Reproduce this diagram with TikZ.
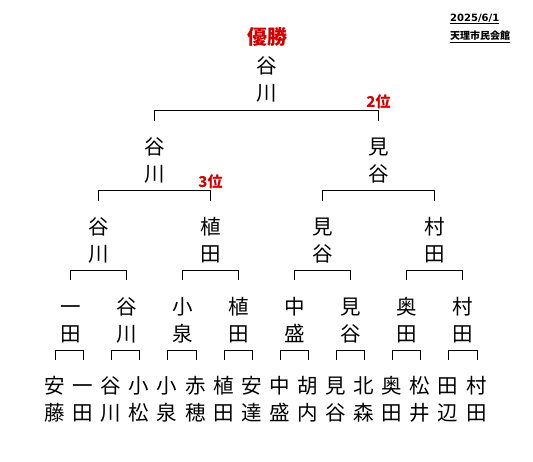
\documentclass[tikz,border=0pt]{standalone}
\usepackage{fontspec}
\usepackage{xcolor}
\usepackage{tikz}
\setmainfont{Noto Sans CJK JP}
\newfontfamily\datefont{DejaVu Sans}
\definecolor{rankred}{HTML}{D00000}
\newcommand\duo[2]{\strut#1\\\strut#2}

\begin{document}
\begin{tikzpicture}[
x=1pt,y=-1pt,
every node/.style={inner sep=0pt},
player/.style={align=center,font=\fontsize{20.5}{27}\selectfont},
rank/.style={text=rankred,font=\fontsize{15}{15}\selectfont\bfseries},
info/.style={anchor=west,font=\fontsize{10}{10}\selectfont\bfseries},
bracket/.style={draw,line width=0.8pt}
]
\useasboundingbox (0,0) rectangle (533,461);

% Header
\node[text=rankred,font=\fontsize{20}{20}\selectfont\bfseries] (title) at (267,37) {優勝};
\node[info] (date) at (450,19) {\datefont\underline{2025/6/1}};
\node[info] (venue) at (450,37) {\underline{天理市民会館}};

% Players
\node[player] (p1) at (55,402) {\duo{安}{藤}};
\node[player] (p2) at (83,402) {\duo{一}{田}};
\node[player] (p3) at (111,402) {\duo{谷}{川}};
\node[player] (p4) at (139,402) {\duo{小}{松}};
\node[player] (p5) at (167,402) {\duo{小}{泉}};
\node[player] (p6) at (196,402) {\duo{赤}{穂}};
\node[player] (p7) at (224,402) {\duo{植}{田}};
\node[player] (p8) at (252,402) {\duo{安}{達}};
\node[player] (p9) at (280,402) {\duo{中}{盛}};
\node[player] (p10) at (308,402) {\duo{胡}{内}};
\node[player] (p11) at (336,402) {\duo{見}{谷}};
\node[player] (p12) at (364,402) {\duo{北}{森}};
\node[player] (p13) at (392,402) {\duo{奥}{田}};
\node[player] (p14) at (420,402) {\duo{松}{井}};
\node[player] (p15) at (448,402) {\duo{田}{辺}};
\node[player] (p16) at (477,402) {\duo{村}{田}};

% Round 1 winners
\node[player] (w1) at (70.5,323) {\duo{一}{田}};
\node[player] (w2) at (126.5,323) {\duo{谷}{川}};
\node[player] (w3) at (182.5,323) {\duo{小}{泉}};
\node[player] (w4) at (238.5,323) {\duo{植}{田}};
\node[player] (w5) at (294.5,323) {\duo{中}{盛}};
\node[player] (w6) at (350.5,323) {\duo{見}{谷}};
\node[player] (w7) at (406.5,323) {\duo{奥}{田}};
\node[player] (w8) at (462.5,323) {\duo{村}{田}};

% Quarter-final winners
\node[player] (q1) at (98.5,242.5) {\duo{谷}{川}};
\node[player] (q2) at (210.5,242.5) {\duo{植}{田}};
\node[player] (q3) at (322.5,242.5) {\duo{見}{谷}};
\node[player] (q4) at (434.5,242.5) {\duo{村}{田}};

% Semi-final winners
\node[player] (s1) at (154.5,162.5) {\duo{谷}{川}};
\node[player] (s2) at (378.5,162.5) {\duo{見}{谷}};

% Champion
\node[player] (champ) at (266.5,82) {\duo{谷}{川}};

% Ranks
\node[rank] (second) at ([yshift=61pt]s2.center) {2位};
\node[rank] (third) at ([yshift=61pt]q2.center) {3位};

% Round 1 brackets
\draw[bracket] ([yshift=42pt]p1.center) -- ++(0,-10) -| ([yshift=42pt]p2.center);
\draw[bracket] ([yshift=42pt]p3.center) -- ++(0,-10) -| ([yshift=42pt]p4.center);
\draw[bracket] ([yshift=42pt]p5.center) -- ++(0,-10) -| ([yshift=42pt]p6.center);
\draw[bracket] ([yshift=42pt]p7.center) -- ++(0,-10) -| ([yshift=42pt]p8.center);
\draw[bracket] ([yshift=42pt]p9.center) -- ++(0,-10) -| ([yshift=42pt]p10.center);
\draw[bracket] ([yshift=42pt]p11.center) -- ++(0,-10) -| ([yshift=42pt]p12.center);
\draw[bracket] ([yshift=42pt]p13.center) -- ++(0,-10) -| ([yshift=42pt]p14.center);
\draw[bracket] ([yshift=42pt]p15.center) -- ++(0,-10) -| ([yshift=42pt]p16.center);

% Quarter-final brackets
\draw[bracket] ([yshift=43pt]w1.center) -- ++(0,-10) -| ([yshift=43pt]w2.center);
\draw[bracket] ([yshift=43pt]w3.center) -- ++(0,-10) -| ([yshift=43pt]w4.center);
\draw[bracket] ([yshift=43pt]w5.center) -- ++(0,-10) -| ([yshift=43pt]w6.center);
\draw[bracket] ([yshift=43pt]w7.center) -- ++(0,-10) -| ([yshift=43pt]w8.center);

% Semi-final brackets
\draw[bracket] ([yshift=42pt]q1.center) -- ++(0,-10) -| ([yshift=42pt]q2.center);
\draw[bracket] ([yshift=42pt]q3.center) -- ++(0,-10) -| ([yshift=42pt]q4.center);

% Final
\draw[bracket] ([yshift=42pt]s1.center) -- ++(0,-10) -| ([yshift=42pt]s2.center);

\end{tikzpicture}
\end{document}
